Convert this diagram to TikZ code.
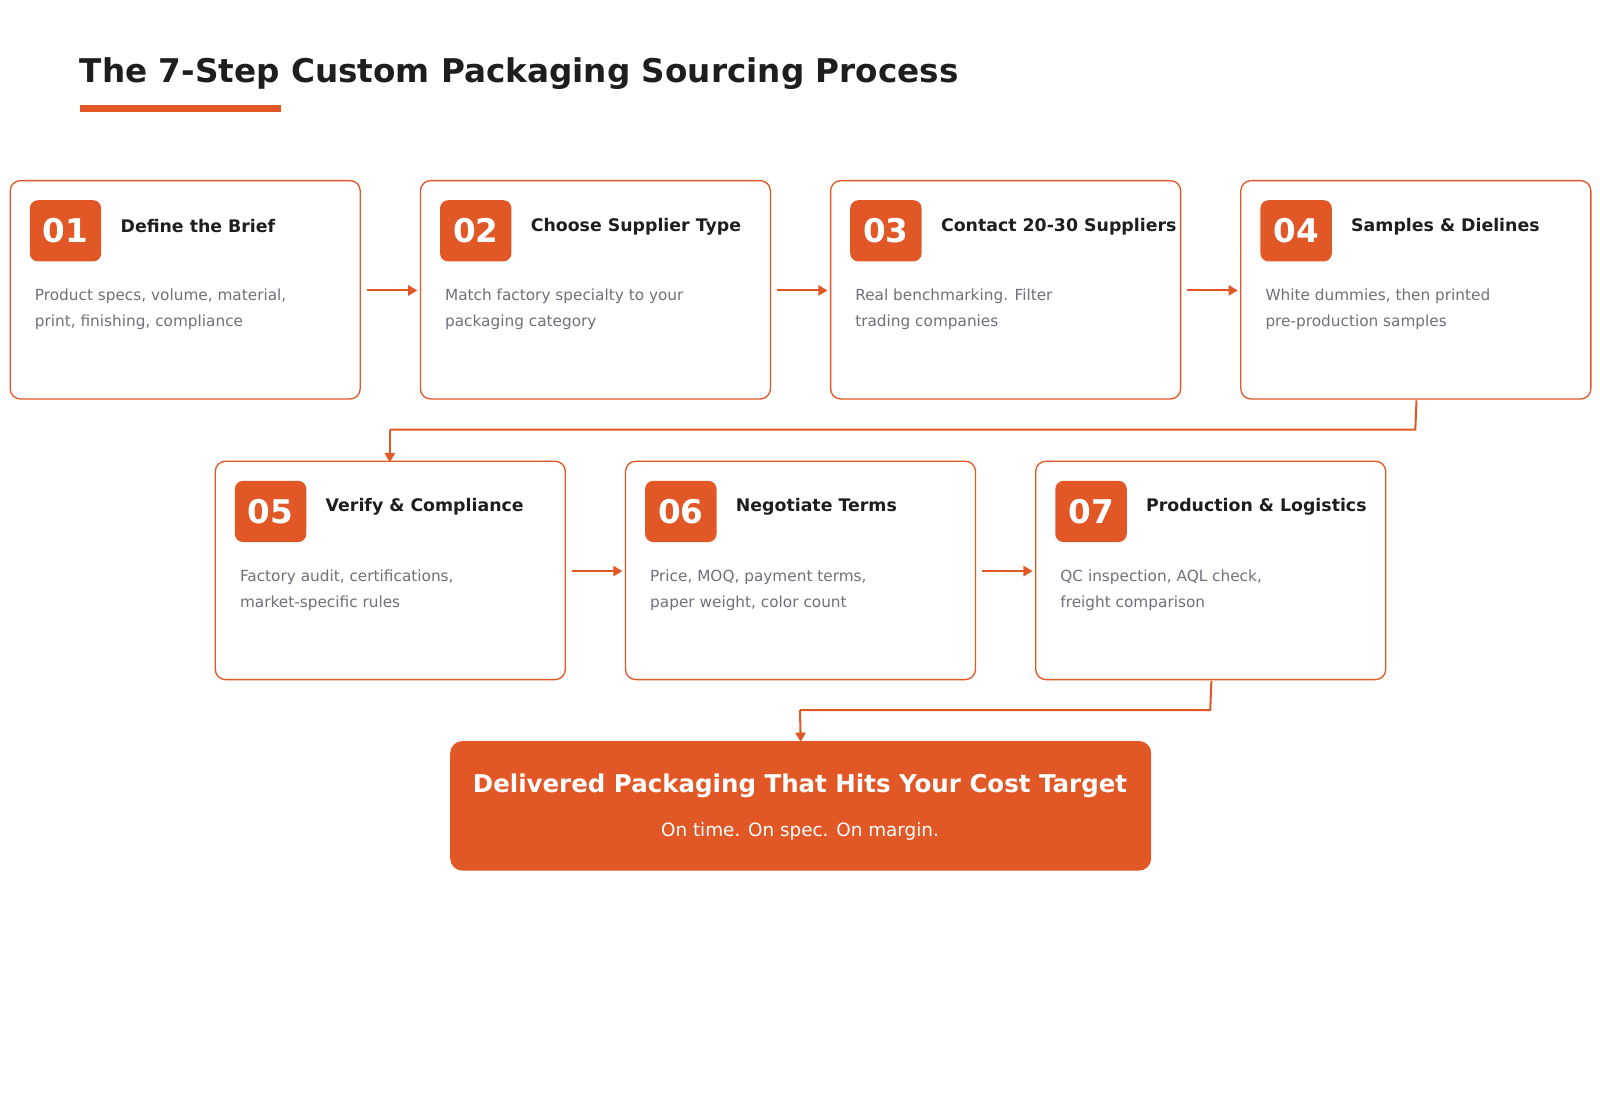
\documentclass[tikz,border=0pt]{standalone}
\usepackage{fontspec}
\setmainfont{DejaVu Sans}
\usetikzlibrary{arrows.meta}
\definecolor{org}{HTML}{E15725}
\definecolor{dark}{HTML}{1E1E1E}
\definecolor{gry}{HTML}{6E717A}
\begin{document}
\begin{tikzpicture}[x=1pt,y=-1pt,
 box/.style={draw=org,line width=1.3pt,rounded corners=10pt,fill=white},
 badge/.style={fill=org,rounded corners=8pt,minimum width=70pt,minimum height=60pt,inner sep=0,text=white,font=\fontsize{32}{32}\selectfont\bfseries},
 stitle/.style={anchor=west,text=dark,font=\fontsize{17}{20}\selectfont\bfseries,inner sep=0},
 desc/.style={anchor=north west,text=gry,font=\fontsize{15}{25.5}\selectfont,align=left,inner sep=0},
 conn/.style={draw=org,line width=2pt,-{Triangle[length=9pt,width=10pt]}},
 link/.style={draw=org,line width=2pt}]
\useasboundingbox (0,0) rectangle (1568,1078);
\node[anchor=base west,inner sep=0,text=dark,font=\fontsize{32}{36}\selectfont\bfseries] (title) at (78,81) {The 7-Step Custom Packaging Sourcing Process};
\fill[org] (78,103) rectangle (275,110);
\newcommand{\stepbox}[6]{%
 \draw[box] (#1,#2) rectangle ++(343,214);
 \node[box,draw=none,fill=none,inner sep=0,minimum width=343pt,minimum height=214pt,anchor=north west] (b#3) at (#1,#2) {};
 \node[badge,anchor=north west] (n#3) at ([xshift=19pt,yshift=-19pt]b#3.north west) {#4};
 \node[stitle] (t#3) at ([xshift=108pt,yshift=-45pt]b#3.north west) {#5};
 \node[desc] (d#3) at ([xshift=24pt,yshift=-106pt]b#3.north west) {#6};}
\stepbox{10}{177}{1}{01}{Define the Brief}{Product specs, volume, material,\\print, finishing, compliance}
\stepbox{412}{177}{2}{02}{Choose Supplier Type}{Match factory specialty to your\\packaging category}
\stepbox{814}{177}{3}{03}{Contact 20-30 Suppliers}{Real benchmarking. Filter\\trading companies}
\stepbox{1216}{177}{4}{04}{Samples \& Dielines}{White dummies, then printed\\pre-production samples}
\stepbox{211}{452}{5}{05}{Verify \& Compliance}{Factory audit, certifications,\\market-specific rules}
\stepbox{613}{452}{6}{06}{Negotiate Terms}{Price, MOQ, payment terms,\\paper weight, color count}
\stepbox{1015}{452}{7}{07}{Production \& Logistics}{QC inspection, AQL check,\\freight comparison}
\draw[conn] ([xshift=5pt]b1.east) -- ([xshift=-3pt]b2.west);
\draw[conn] ([xshift=5pt]b2.east) -- ([xshift=-3pt]b3.west);
\draw[conn] ([xshift=5pt]b3.east) -- ([xshift=-3pt]b4.west);
\draw[conn] ([xshift=5pt]b5.east) -- ([xshift=-3pt]b6.west);
\draw[conn] ([xshift=5pt]b6.east) -- ([xshift=-3pt]b7.west);
\node[fill=org,rounded corners=12pt,minimum width=687pt,minimum height=127pt,anchor=north west,inner sep=0] (fin) at (441,726) {};
\node[text=white,font=\fontsize{24}{28}\selectfont\bfseries,inner sep=0] (ft) at (784,770) {Delivered Packaging That Hits Your Cost Target};
\node[text=white,font=\fontsize{18}{22}\selectfont,inner sep=0] (fs) at (784,815) {On time. On spec. On margin.};
\coordinate (c1) at (1387,421);
\coordinate (c2) at (382,421);
\draw[link] (b4.south) -- (c1) -- (c2);
\draw[conn] (c2) -- ([yshift=-1pt]b5.north -| c2);
\coordinate (c3) at (1186,696);
\coordinate (c4) at (784,696);
\draw[link] (b7.south) -- (c3) -- (c4);
\draw[conn] (c4) -- ([yshift=-1pt]fin.north);
\end{tikzpicture}
\end{document}
